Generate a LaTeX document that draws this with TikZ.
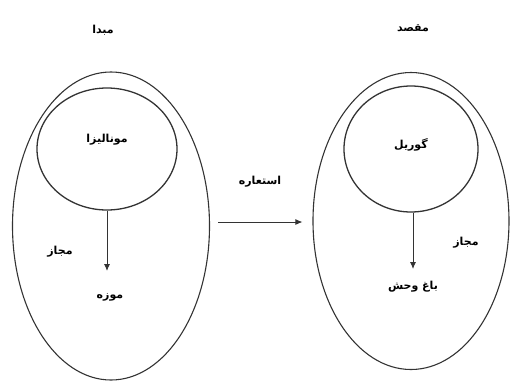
\documentclass[tikz,border=0pt]{standalone}
\usepackage{fontspec}
\newfontfamily\arabicfont[Script=Arabic,BoldFont={DejaVu Sans Bold}]{DejaVu Sans}
\TeXXeTstate=1
\usetikzlibrary{arrows.meta,positioning,shapes.geometric}
\tikzset{
      domainshape/.style={
        ellipse,
        draw=black!80,
        line width=1.1pt,
        inner sep=0pt
      },
      conceptshape/.style={
        ellipse,
        draw=black!80,
        line width=1.3pt,
        inner sep=0pt
      },
      farsilabel/.style={
        font=\arabicfont\bfseries\fontsize{11}{13}\selectfont,
        inner sep=1pt
      },
      maplink/.style={
        -{Latex[length=7pt,width=6pt]},
        line width=0.9pt,
        color=black!80
      }
    }
\begin{document}
\begin{tikzpicture}[x=1pt,y=-1pt]
    \useasboundingbox (0,0) rectangle (512,381);
    \node[domainshape, minimum width=197pt, minimum height=308pt] (srcouter) at (111,226) {};
    \node[conceptshape, minimum width=140pt, minimum height=122pt] (srcinner) at (107,149) {};
    \node[domainshape, minimum width=196pt, minimum height=297pt] (tgtouter) at (411,221) {};
    \node[conceptshape, minimum width=134pt, minimum height=126pt] (tgtinner) at (411,149) {};
    \node[farsilabel] (srctitle) at (103,30) {\beginR مبدا\endR};
    \node[farsilabel] (tgttitle) at (413,28) {\beginR مقصد\endR};
    \node[farsilabel] (monalisa) at (107,140) {\beginR مونالیزا\endR};
    \node[farsilabel] (gorilla) at (411,145) {\beginR گوریل\endR};
    \node[farsilabel] (srcmetonymy) at (60,252) {\beginR مجاز\endR};
    \node[farsilabel] (tgtmetonymy) at (466,243) {\beginR مجاز\endR};
    \node[farsilabel] (museum) at (110,297) {\beginR موزه\endR};
    \node[farsilabel] (zoo) at (413,287) {\beginR باغ وحش\endR};
    \node[farsilabel] (metaphor) at (260,182) {\beginR استعاره\endR};
    \coordinate (museumtip) at (107,271);
    \coordinate (zootip) at (413,269);
    \draw[maplink] (srcinner.south) -- (museumtip);
    \draw[maplink] (tgtinner.south -| zootip) -- (zootip);
    \draw[maplink, shorten <=8pt, shorten >=10pt] (srcouter.east |- 0,222) -- (tgtouter.west |- 0,222);
    \end{tikzpicture}
\end{document}
